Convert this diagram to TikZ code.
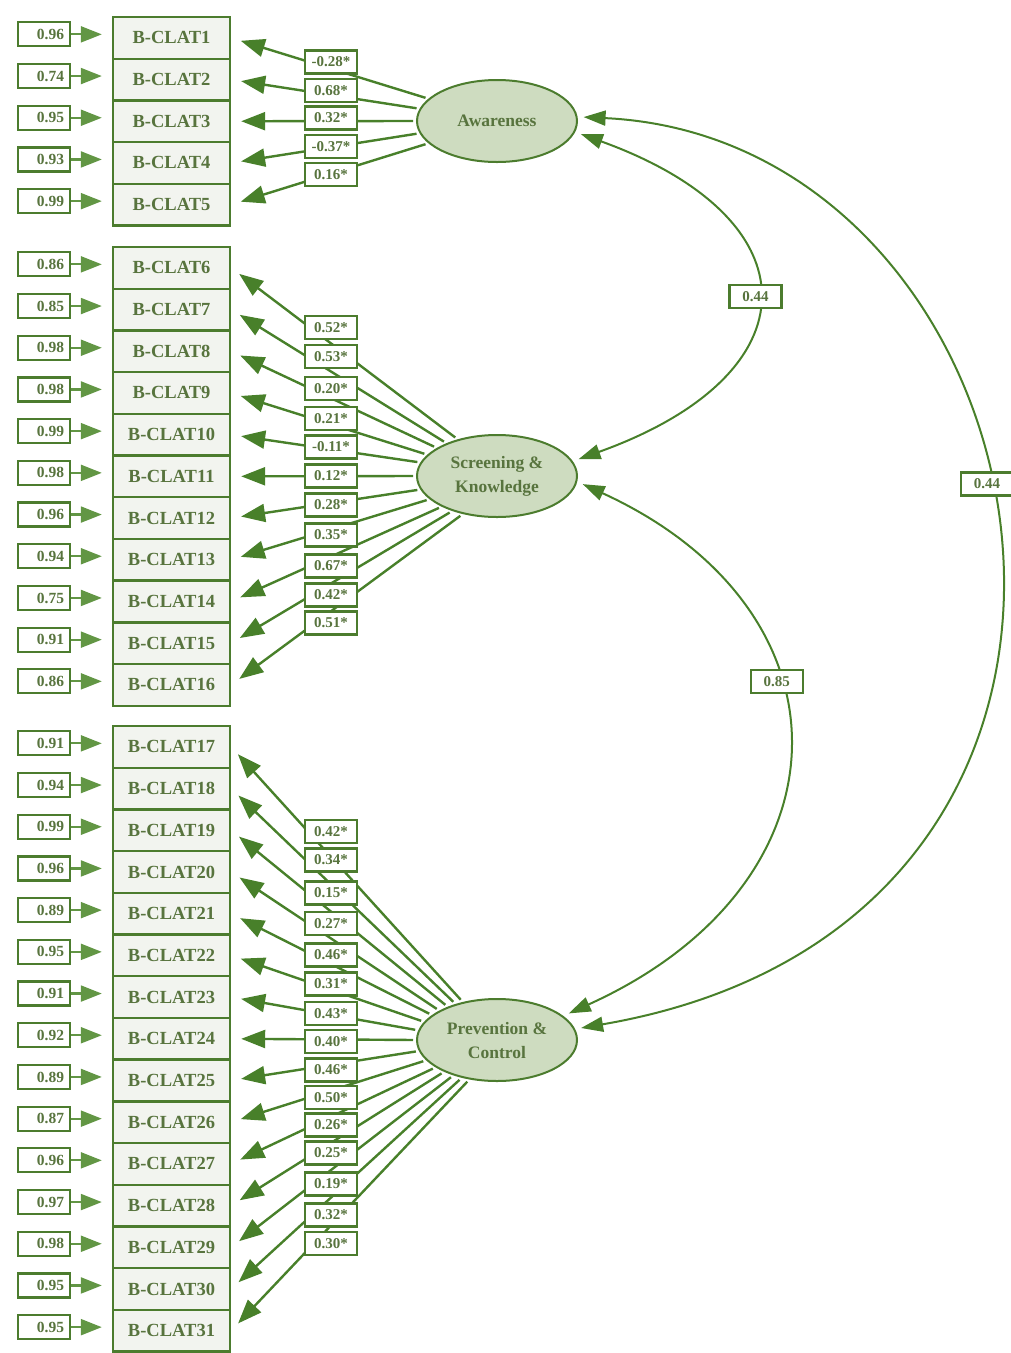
\documentclass[tikz,border=0pt]{standalone}
\usepackage{fontspec}
\setmainfont{Liberation Serif}
\usetikzlibrary{shapes.geometric}
\usetikzlibrary{arrows.meta}

\definecolor{semline}{RGB}{72,128,42}
\definecolor{erline}{RGB}{98,150,68}
\definecolor{boxedge}{RGB}{76,124,46}
\definecolor{semtext}{RGB}{88,116,62}
\definecolor{itemfill}{RGB}{242,244,239}
\definecolor{latfill}{RGB}{206,220,192}

\tikzset{
  item/.style={draw=boxedge, line width=2.4pt, fill=itemfill, minimum width=117pt,
    minimum height=41.7pt, inner sep=0pt, text=semtext,
    font=\fontsize{18.5}{20}\selectfont\bfseries},
  err/.style={draw=boxedge, line width=2.2pt, fill=white, text width=40pt, align=right,
    inner xsep=6pt, inner ysep=0pt, minimum height=24pt, text=semtext,
    font=\fontsize{15.5}{16}\selectfont\bfseries},
  lab/.style={draw=boxedge, line width=2.2pt, fill=white, minimum width=52pt,
    minimum height=23pt, inner sep=0pt, text=semtext,
    font=\fontsize{15}{16}\selectfont\bfseries},
  latent/.style={ellipse, draw=boxedge, line width=2pt, fill=latfill, minimum width=160pt,
    minimum height=82pt, inner sep=0pt, align=center, text=semtext,
    font=\fontsize{17.5}{24}\selectfont\bfseries},
  errarr/.style={draw=erline, line width=2.2pt, -{Triangle[length=21pt,width=16pt]}, shorten >=10pt},
  load/.style={draw=semline, line width=2.4pt, -{Triangle[length=24pt,width=18pt]},
    shorten >=10pt, shorten <=3pt},
  corr/.style={draw=semline, line width=2pt, {Triangle[length=22pt,width=15pt]}-{Triangle[length=22pt,width=15pt]},
    shorten >=6pt, shorten <=6pt}
}

\begin{document}
\begin{tikzpicture}[x=1pt,y=-1pt]
\useasboundingbox (0,0) rectangle (1011,1353);

% factors
\node[latent] (aw) at (497,121) {Awareness};
\node[latent] (sc) at (497,476) {Screening \&\\Knowledge};
\node[latent] (pr) at (497,1040) {Prevention \&\\Control};

% items and error terms
\foreach \e [count=\k] in {0.96,0.74,0.95,0.93,0.99}{
  \pgfmathsetmacro\yy{37.85+41.7*(\k-1)}
  \node[item] (i\k) at (171.5,\yy) {B-CLAT\k};
  \node[err] (e\k) at (44,\yy-3.5) {\e};
  \draw[errarr] (e\k) -- (e\k -| i\k.west);
}
\foreach \e [count=\k from 6] in {0.86,0.85,0.98,0.98,0.99,0.98,0.96,0.94,0.75,0.91,0.86}{
  \pgfmathsetmacro\yy{267.85+41.7*(\k-6)}
  \node[item] (i\k) at (171.5,\yy) {B-CLAT\k};
  \node[err] (e\k) at (44,\yy-3.5) {\e};
  \draw[errarr] (e\k) -- (e\k -| i\k.west);
}
\foreach \e [count=\k from 17] in {0.91,0.94,0.99,0.96,0.89,0.95,0.91,0.92,0.89,0.87,0.96,0.97,0.98,0.95,0.95}{
  \pgfmathsetmacro\yy{746.85+41.7*(\k-17)}
  \node[item] (i\k) at (171.5,\yy) {B-CLAT\k};
  \node[err] (e\k) at (44,\yy-3.5) {\e};
  \draw[errarr] (e\k) -- (e\k -| i\k.west);
}

% loadings
\foreach \k/\a in {1/162,2/171,3/180,4/189,5/198}
  \draw[load] (aw.\a) -- (i\k.east);
\foreach \k/\a in {6/137,7/147,8/155,9/163,10/170,11/180,12/190,13/199,14/209,15/218,16/228}
  \draw[load] (sc.\a) -- (i\k.east);
\foreach \k/\a in {17/132,18/139,19/146,20/153,21/159,22/166,23/173,24/180,25/188,26/196,27/204,28/211,29/219,30/227,31/235}
  \draw[load] (pr.\a) -- (i\k.east);

\foreach \k/\ly/\v in {1/62/-0.28*,2/90.5/0.68*,3/118/0.32*,4/146.5/-0.37*,5/174.5/0.16*,
  6/327.5/0.52*,7/356.5/0.53*,8/388.5/0.20*,9/418.5/0.21*,10/447/-0.11*,11/476/0.12*,
  12/505/0.28*,13/535/0.35*,14/566/0.67*,15/595/0.42*,16/623/0.51*,
  17/831.5/0.42*,18/860/0.34*,19/893/0.15*,20/923.5/0.27*,21/955/0.46*,22/984/0.31*,
  23/1013.5/0.43*,24/1041.5/0.40*,25/1070/0.46*,26/1097.5/0.50*,27/1125/0.26*,
  28/1153/0.25*,29/1184/0.19*,30/1215/0.32*,31/1243.5/0.30*}
  \node[lab] (l\k) at (331,\ly) {\v};

% correlations
\draw[corr] (aw.-8) .. controls (816,219) and (816,374) .. node[lab] (r1) {0.44} (sc.11);
\draw[corr] (sc.-4) .. controls (860,611) and (855,884) .. node[lab,pos=0.39] (r2) {0.85} (pr.20);
\draw[corr] (aw.3) .. controls (1060,140) and (1210,920) .. node[lab,pos=0.455] (r3) {0.44} (pr.8);
\end{tikzpicture}
\end{document}
